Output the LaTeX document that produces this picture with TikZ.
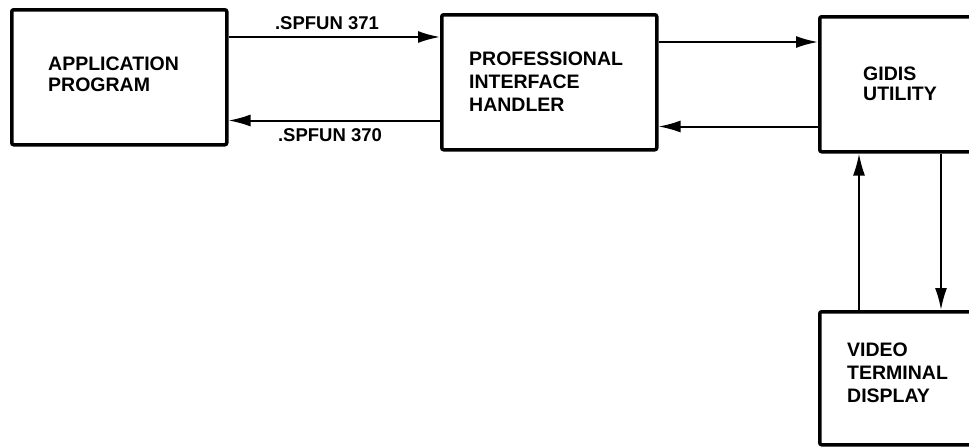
\documentclass[tikz,border=0pt]{standalone}
\usepackage{fontspec}
\setmainfont{Liberation Sans}
\usetikzlibrary{arrows.meta}
\begin{document}
\begin{tikzpicture}[x=1pt,y=-1pt,
  box/.style={draw,line width=3.5pt,rounded corners=2pt,inner sep=0pt,anchor=north west},
  lbl/.style={anchor=north west,inner sep=0pt,align=left,font=\bfseries\fontsize{19.5}{22}\selectfont},
  conn/.style={line width=2pt,-{Latex[length=22pt,width=12pt]}},
  tag/.style={inner sep=0pt,font=\bfseries\fontsize{18.5}{20}\selectfont}]
\useasboundingbox (0,0) rectangle (969,447);
\clip (0,0) rectangle (969,447);
\fill[white] (0,0) rectangle (969,447);
% boxes
\node[box,minimum width=215pt,minimum height=135pt] (app) at (10,8) {};
\node[box,minimum width=215pt,minimum height=135pt] (prof) at (440,13) {};
\node[box,minimum width=200pt,minimum height=135pt] (gidis) at (818,15) {};
\node[box,minimum width=200pt,minimum height=133pt] (video) at (818,310) {};
% texts
\node[lbl,font=\bfseries\fontsize{19.5}{21}\selectfont] (appt) at (48,57) {APPLICATION\\PROGRAM};
\node[lbl,font=\bfseries\fontsize{19.5}{23}\selectfont] (proft) at (469,52) {PROFESSIONAL\\INTERFACE\\HANDLER};
\node[lbl,font=\bfseries\fontsize{19.5}{20}\selectfont] (gidist) at (863,67) {GIDIS\\UTILITY};
\node[lbl,font=\bfseries\fontsize{19.5}{23}\selectfont] (videot) at (847,343) {VIDEO\\TERMINAL\\DISPLAY};
% connectors
\draw[conn] ([yshift=-29pt]app.north east) -- ([yshift=-29pt]app.north east -| prof.west);
\draw[conn] ([yshift=31pt]prof.south west) -- ([yshift=31pt]prof.south west -| app.east);
\draw[conn] ([yshift=-29pt]prof.north east) -- ([yshift=-29pt]prof.north east -| gidis.west);
\draw[conn] ([yshift=25pt]prof.south east -| gidis.west) -- ([yshift=25pt]prof.south east);
\draw[conn] ([xshift=41pt]video.north west) -- ([xshift=41pt]video.north west |- gidis.south);
\draw[conn] ([xshift=123pt]gidis.south west) -- ([xshift=123pt]gidis.south west |- video.north);
% labels
\node[tag] (l371) at (327,23) {.SPFUN 371};
\node[tag] (l370) at (330,135) {.SPFUN 370};
\end{tikzpicture}
\end{document}
